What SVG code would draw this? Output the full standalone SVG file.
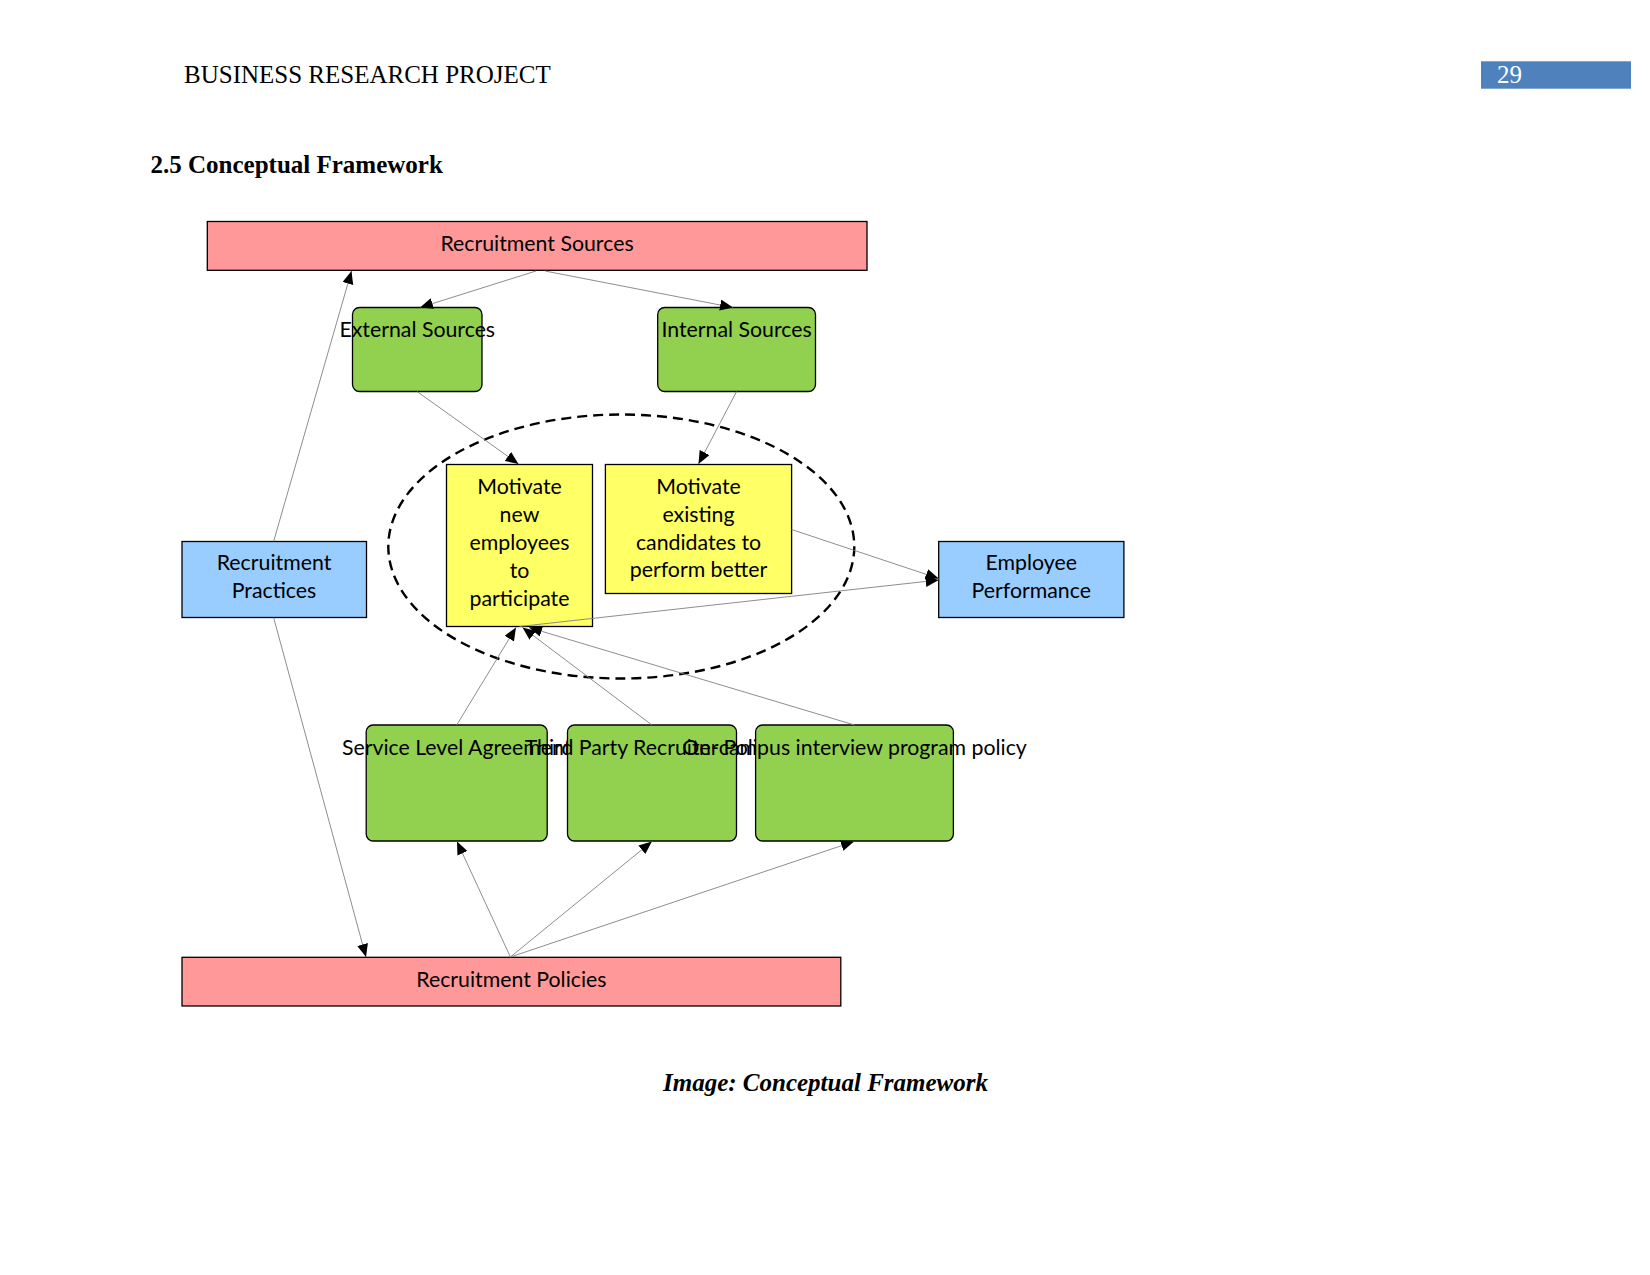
<svg xmlns="http://www.w3.org/2000/svg" width="1650" height="1275" viewBox="0 0 1650 1275">
<style>
.serif{font-family:"Liberation Serif","Times New Roman",serif;font-size:25px;fill:#000}
.t{font-family:Lato,"Open Sans","Liberation Sans",sans-serif;font-size:21.3px;fill:#000;text-anchor:middle}
.box{stroke:#000;stroke-width:1.3}
.pink{fill:#ff9999}
.green{fill:#92d050}
.yellow{fill:#ffff66}
.blue{fill:#99ccff}
.conn line{stroke:#808080;stroke-width:0.9;fill:none;marker-end:url(#arr)}
</style>
<defs>
<marker id="arr" markerUnits="userSpaceOnUse" markerWidth="14" markerHeight="12" refX="13" refY="5.5" orient="auto">
<path d="M0,0 L13,5.5 L0,11 z" fill="#000"/>
</marker>
</defs>
<rect width="1650" height="1275" fill="#fff"/>
<g id="header">
<text class="serif" x="184" y="83">BUSINESS RESEARCH PROJECT</text>
<rect x="1481" y="61.3" width="150" height="27.4" fill="#4f81bd"/>
<text class="serif" x="1497" y="82.5" style="fill:#fff">29</text>
<text class="serif" x="150.5" y="173" font-weight="bold">2.5 Conceptual Framework</text>
</g>
<g id="ellipse">
<ellipse cx="621.3" cy="546.5" rx="233" ry="132" fill="none" stroke="#000" stroke-width="2.4" stroke-dasharray="10,6"/>
</g>
<g id="recruitment-sources">
<rect class="box pink" x="207.3" y="221.5" width="659.7" height="48.8"/>
<text class="t" x="537" y="250.5">Recruitment Sources</text>
</g>
<g id="external-sources">
<rect class="box green" x="352.5" y="307.5" width="129.5" height="84" rx="7"/>
<text class="t" x="417.3" y="337">External Sources</text>
</g>
<g id="internal-sources">
<rect class="box green" x="657.7" y="307.5" width="157.8" height="84" rx="7"/>
<text class="t" x="736.6" y="337">Internal Sources</text>
</g>
<g id="motivate-new">
<rect class="box yellow" x="446.5" y="464.5" width="146" height="162"/>
<text class="t" x="519.5" y="494">Motivate</text>
<text class="t" x="519.5" y="522">new</text>
<text class="t" x="519.5" y="550">employees</text>
<text class="t" x="519.5" y="578">to</text>
<text class="t" x="519.5" y="606">participate</text>
</g>
<g id="motivate-existing">
<rect class="box yellow" x="605.4" y="464.5" width="186.2" height="129"/>
<text class="t" x="698.5" y="494">Motivate</text>
<text class="t" x="698.5" y="522">existing</text>
<text class="t" x="698.5" y="550">candidates to</text>
<text class="t" x="698.5" y="577">perform better</text>
</g>
<g id="recruitment-practices">
<rect class="box blue" x="182" y="541.5" width="184.5" height="76"/>
<text class="t" x="274" y="570">Recruitment</text>
<text class="t" x="274" y="597.5">Practices</text>
</g>
<g id="employee-performance">
<rect class="box blue" x="938.7" y="541.5" width="185.2" height="76"/>
<text class="t" x="1031.3" y="570">Employee</text>
<text class="t" x="1031.3" y="597.5">Performance</text>
</g>
<g id="sla">
<rect class="box green" x="366.2" y="725" width="181" height="116" rx="7"/>
<text class="t" x="456.7" y="755">Service Level Agreement</text>
</g>
<g id="third-party">
<rect class="box green" x="567.5" y="725" width="169" height="116" rx="7"/>
<text class="t" x="651.9" y="755">Third Party Recruiter Policy</text>
</g>
<g id="on-campus">
<rect class="box green" x="755.6" y="725" width="197.8" height="116" rx="7"/>
<text class="t" x="854.5" y="755">On-campus interview program policy</text>
</g>
<g id="recruitment-policies">
<rect class="box pink" x="182" y="957.3" width="658.8" height="48.7"/>
<text class="t" x="511.4" y="987">Recruitment Policies</text>
</g>
<g id="connectors" class="conn">
<line x1="536" y1="271" x2="420" y2="307.5"/>
<line x1="545" y1="271" x2="733" y2="307.5"/>
<line x1="417" y1="391.5" x2="518.5" y2="464"/>
<line x1="736.6" y1="391.5" x2="698.5" y2="464"/>
<line x1="791.6" y1="529.5" x2="938.7" y2="578.5"/>
<line x1="519.5" y1="626.5" x2="938.7" y2="580"/>
<line x1="273.6" y1="541.5" x2="351.5" y2="271"/>
<line x1="273.6" y1="617.5" x2="366" y2="957"/>
<line x1="510.4" y1="957" x2="457" y2="841.5"/>
<line x1="510.4" y1="957" x2="651.9" y2="841.5"/>
<line x1="510.4" y1="957" x2="854" y2="841.5"/>
<line x1="456.7" y1="725" x2="516" y2="627.5"/>
<line x1="651.9" y1="725" x2="522.5" y2="627.5"/>
<line x1="854.5" y1="725" x2="529" y2="627.5"/>
</g>
<g id="caption">
<text class="serif" x="663" y="1090.5" font-weight="bold" font-style="italic">Image: Conceptual Framework</text>
</g>
</svg>
